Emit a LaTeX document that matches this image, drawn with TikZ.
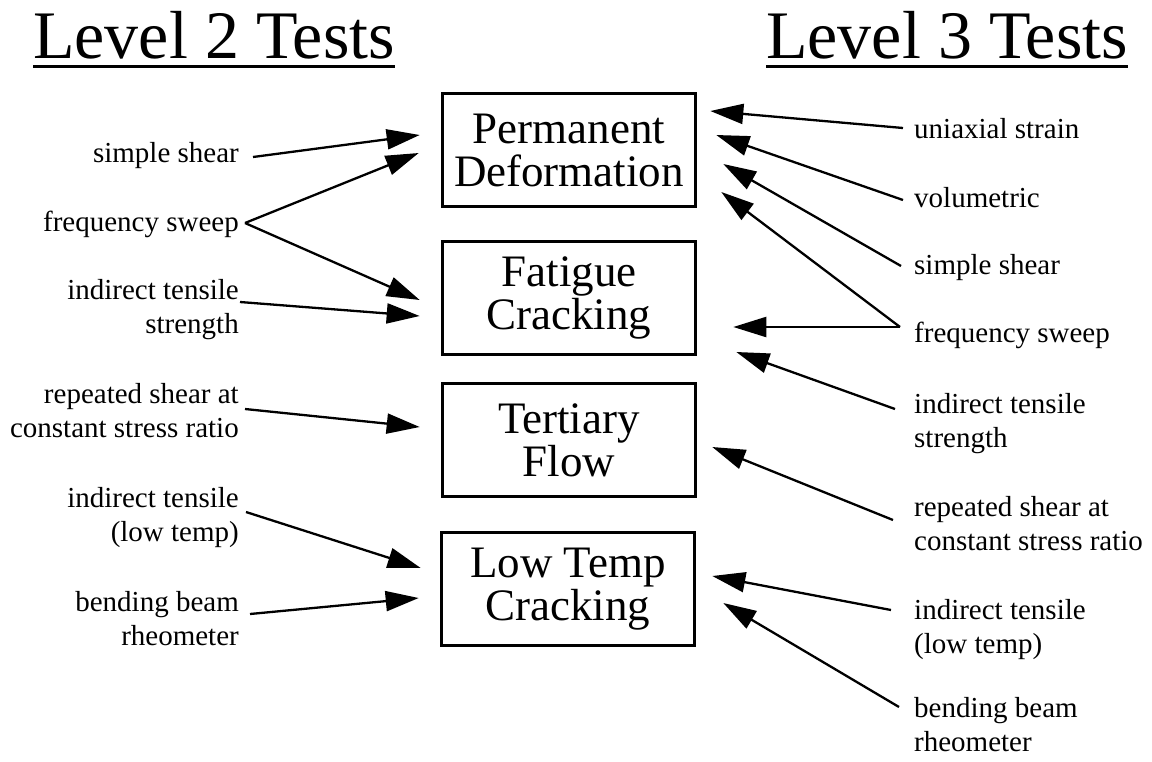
\documentclass[tikz,border=0pt]{standalone}
\usepackage{fontspec}
\setmainfont{Liberation Serif}
\usetikzlibrary{arrows.meta,calc}
\begin{document}
\begin{tikzpicture}[x=1pt,y=-1pt,
  testbox/.style={draw,line width=2.6pt,minimum width=253pt,minimum height=113pt,
    align=center,inner sep=0pt,font=\fontsize{45}{43}\selectfont},
  leftlabel/.style={anchor=north east,align=right,inner sep=0pt,font=\fontsize{29}{34}\selectfont},
  rightlabel/.style={anchor=north west,align=left,inner sep=0pt,font=\fontsize{29}{34}\selectfont},
  heading/.style={anchor=base west,inner sep=0pt,font=\fontsize{68}{80}\selectfont},
  arr/.style={line width=2.3pt,-{Triangle[length=33pt,width=20pt]}},
]
\useasboundingbox (0,0) rectangle (1152,761);

% headings with underlines
\node[heading] (t2) at (33,58) {Level 2 Tests};
\node[heading] (t3) at (766,58) {Level 3 Tests};
\draw[line width=3pt] ($(t2.base west)+(0,8.5)$) -- ($(t2.base east)+(0,8.5)$);
\draw[line width=3pt] ($(t3.base west)+(0,8.5)$) -- ($(t3.base east)+(0,8.5)$);

% distress modes
\node[testbox] (pd) at (569,150) {Permanent\\Deformation};
\node[testbox] (fc) at (569,298) {Fatigue\\Cracking};
\node[testbox] (tf) at (569,440) {Tertiary\\Flow};
\node[testbox] (lt) at (568,589) {Low Temp\\Cracking};

% level 2 tests
\node[leftlabel] (ls) at (239,142) {simple shear};
\node[leftlabel] (lf) at (239,211) {frequency sweep};
\node[leftlabel] (li) at (239,279) {indirect tensile\\strength};
\node[leftlabel] (lr) at (239,383) {repeated shear at\\constant stress ratio};
\node[leftlabel] (ll) at (239,487) {indirect tensile\\(low temp)};
\node[leftlabel] (lb) at (239,591) {bending beam\\rheometer};

% level 3 tests
\node[rightlabel] (ru) at (914,118) {uniaxial strain};
\node[rightlabel] (rv) at (914,187) {volumetric};
\node[rightlabel] (rs) at (914,254) {simple shear};
\node[rightlabel] (rf) at (914,322) {frequency sweep};
\node[rightlabel] (ri) at (914,393) {indirect tensile\\strength};
\node[rightlabel] (rr) at (914,496) {repeated shear at\\constant stress ratio};
\node[rightlabel] (rl) at (914,599) {indirect tensile\\(low temp)};
\node[rightlabel] (rb) at (914,697) {bending beam\\rheometer};

% level 2 arrows
\draw[arr] ($(ls.north east)+(14,15)$) -- ($(pd.west)+(-21.5,-15)$);
\draw[arr] ($(lf.north east)+(6,12)$) -- ($(pd.west)+(-22.5,3)$);
\draw[arr] ($(lf.north east)+(6,12)$) -- ($(fc.west)+(-21.5,2)$);
\draw[arr] ($(li.north east)+(1,23)$) -- ($(fc.west)+(-21.5,18)$);
\draw[arr] ($(lr.north east)+(6,26)$) -- ($(tf.west)+(-21.5,-13)$);
\draw[arr] ($(ll.north east)+(7,25)$) -- ($(lt.west)+(-19.5,-21)$);
\draw[arr] ($(lb.north east)+(11,23)$) -- ($(lt.west)+(-21.5,9)$);

% level 3 arrows
\draw[arr] ($(ru.north west)+(-11,10)$) -- ($(pd.east)+(13.5,-39)$);
\draw[arr] ($(rv.north west)+(-11,13)$) -- ($(pd.east)+(19.5,-15)$);
\draw[arr] ($(rs.north west)+(-13,12)$) -- ($(pd.east)+(26.5,14)$);
\draw[arr] ($(rf.north west)+(-14,5)$) -- ($(pd.east)+(24.5,42)$);
\draw[arr] ($(rf.north west)+(-14,5)$) -- ($(fc.east)+(36.5,29)$);
\draw[arr] ($(ri.north west)+(-19,16)$) -- ($(fc.east)+(39.5,54)$);
\draw[arr] ($(rr.north west)+(-21,24)$) -- ($(tf.east)+(15.5,7)$);
\draw[arr] ($(rl.north west)+(-23,11)$) -- ($(lt.east)+(16.5,-13)$);
\draw[arr] ($(rb.north west)+(-15,10)$) -- ($(lt.east)+(27.5,14)$);
\end{tikzpicture}
\end{document}
